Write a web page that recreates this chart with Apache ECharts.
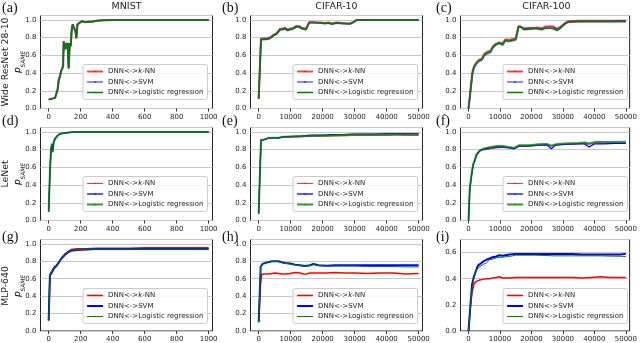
<!DOCTYPE html>
<html>
<head>
<meta charset="utf-8">
<script src="https://cdn.jsdelivr.net/npm/echarts@6/dist/echarts.min.js"></script>
<style>
html, body { margin: 0; padding: 0; background: #fff; }
#chart { width: 640px; height: 343px; }
</style>
</head>
<body>
<div id="chart"></div>
<script>
// labels
const colTitles = ['MNIST', 'CIFAR-10', 'CIFAR-100']
const rowNames = ['Wide ResNet 28-10', 'LeNet', 'MLP-640']
const panelLetters = ['(a)', '(b)', '(c)', '(d)', '(e)', '(f)', '(g)', '(h)', '(i)']
const legendLabels = ['DNN<->{k|k}-NN', 'DNN<->SVM', 'DNN<->Logistic regression']

// tick labels
const mnistTicks = [0, 200, 400, 600, 800, 1000]
const cifarTicks = [0, 10000, 20000, 30000, 40000, 50000]
const yTicks = [0, 0.2, 0.4, 0.6, 0.8, 1.0]
const yTicksLow = [0, 0.2, 0.4, 0.6]

// (a) Wide ResNet / MNIST
const aX = [0, 8, 40, 50, 56, 63, 71, 77, 84, 90, 94, 98, 104, 111, 115, 119, 125, 132, 138, 144, 150, 159, 167, 173, 180, 190, 207, 228, 248, 270, 300, 342, 405, 500, 600, 700, 800, 900, 1000]
const aKnn = [0.10, 0.12, 0.12, 0.11, 0.22, 0.33, 0.37, 0.42, 0.44, 0.48, 0.76, 0.67, 0.69, 0.74, 0.68, 0.74, 0.46, 0.74, 0.71, 0.89, 0.95, 0.93, 0.88, 0.80, 0.95, 0.96, 0.985, 0.975, 0.98, 0.98, 0.99, 0.995, 1, 1, 1, 1, 1, 1, 1]
const aSvm = [0.10, 0.12, 0.12, 0.12, 0.21, 0.32, 0.36, 0.42, 0.43, 0.47, 0.76, 0.66, 0.68, 0.74, 0.67, 0.74, 0.45, 0.74, 0.70, 0.89, 0.95, 0.93, 0.87, 0.79, 0.95, 0.96, 0.985, 0.975, 0.98, 0.98, 0.99, 0.995, 1, 1, 1, 1, 1, 1, 1]
const aLr = [0.10, 0.12, 0.12, 0.12, 0.21, 0.32, 0.36, 0.42, 0.43, 0.47, 0.76, 0.66, 0.68, 0.74, 0.67, 0.74, 0.45, 0.74, 0.70, 0.89, 0.95, 0.93, 0.87, 0.79, 0.95, 0.96, 0.985, 0.975, 0.98, 0.98, 0.99, 0.995, 1, 1, 1, 1, 1, 1, 1]

// (b) Wide ResNet / CIFAR-10
const bX = [0, 730, 1500, 2500, 3550, 4600, 5640, 6700, 7500, 8250, 9000, 9800, 10850, 11700, 12700, 13500, 14000, 14800, 15800, 17100, 19200, 20800, 21800, 22900, 24400, 26000, 27000, 28500, 29500, 30700, 35000, 40000, 45000, 50000]
const bKnn = [0.11, 0.79, 0.79, 0.79, 0.80, 0.83, 0.85, 0.90, 0.90, 0.91, 0.89, 0.90, 0.91, 0.93, 0.93, 0.91, 0.89, 0.90, 0.975, 0.97, 0.97, 0.965, 0.97, 0.96, 0.97, 0.965, 0.96, 0.96, 0.975, 1, 1, 1, 1, 1]
const bSvm = [0.11, 0.78, 0.785, 0.785, 0.795, 0.825, 0.845, 0.895, 0.895, 0.905, 0.885, 0.895, 0.905, 0.925, 0.925, 0.905, 0.885, 0.895, 0.97, 0.97, 0.965, 0.96, 0.965, 0.955, 0.965, 0.96, 0.96, 0.955, 0.97, 1, 1, 1, 1, 1]
const bLr = [0.11, 0.77, 0.78, 0.78, 0.79, 0.82, 0.84, 0.89, 0.89, 0.90, 0.88, 0.89, 0.90, 0.92, 0.92, 0.90, 0.88, 0.89, 0.97, 0.97, 0.965, 0.96, 0.965, 0.955, 0.965, 0.96, 0.96, 0.955, 0.97, 1, 1, 1, 1, 1]

// (c) Wide ResNet / CIFAR-100
const cX = [0, 1250, 1770, 2500, 3340, 4170, 5100, 6160, 6900, 7720, 8560, 9800, 10850, 11700, 12700, 14000, 15000, 15900, 16600, 17650, 19200, 20800, 21800, 23400, 24400, 26000, 27000, 28100, 29100, 30700, 31700, 35000, 40000, 45000, 50000]
const cKnn = [0, 0.42, 0.48, 0.52, 0.55, 0.56, 0.62, 0.645, 0.645, 0.70, 0.73, 0.745, 0.735, 0.78, 0.775, 0.785, 0.79, 0.93, 0.925, 0.905, 0.91, 0.91, 0.915, 0.905, 0.925, 0.93, 0.925, 0.90, 0.92, 0.965, 0.985, 0.99, 0.99, 0.99, 0.99]
const cSvm = [0, 0.39, 0.46, 0.50, 0.535, 0.545, 0.60, 0.62, 0.63, 0.685, 0.715, 0.735, 0.715, 0.765, 0.755, 0.765, 0.775, 0.925, 0.92, 0.895, 0.90, 0.905, 0.905, 0.895, 0.91, 0.915, 0.91, 0.89, 0.91, 0.96, 0.98, 0.985, 0.985, 0.985, 0.99]
const cLr = [0, 0.40, 0.47, 0.51, 0.54, 0.55, 0.61, 0.63, 0.64, 0.69, 0.72, 0.74, 0.72, 0.77, 0.76, 0.77, 0.78, 0.92, 0.92, 0.89, 0.895, 0.90, 0.90, 0.89, 0.905, 0.905, 0.90, 0.88, 0.905, 0.955, 0.975, 0.98, 0.98, 0.98, 0.98]

// (d) LeNet / MNIST
const dX = [0, 8, 15, 21, 25, 31, 40, 50, 60, 81, 113, 154, 200, 300, 400, 500, 600, 700, 800, 900, 1000]
const dKnn = [0.10, 0.56, 0.82, 0.87, 0.80, 0.89, 0.93, 0.95, 0.97, 0.985, 0.99, 1, 1, 1, 1, 1, 1, 1, 1, 1, 1]
const dSvm = [0.10, 0.55, 0.81, 0.86, 0.78, 0.88, 0.93, 0.94, 0.97, 0.98, 0.99, 1, 1, 1, 1, 1, 1, 1, 1, 1, 1]
const dLr = [0.10, 0.55, 0.81, 0.86, 0.77, 0.88, 0.92, 0.94, 0.965, 0.985, 0.99, 1, 1, 1, 1, 1, 1, 1, 1, 1, 1]

// (e) LeNet / CIFAR-10
const eX = [0, 730, 1460, 2000, 3000, 4600, 6100, 7700, 10000, 13500, 16000, 20000, 23000, 26500, 30000, 33000, 36000, 40000, 43200, 46500, 50000]
const eKnn = [0.07, 0.90, 0.91, 0.92, 0.93, 0.935, 0.93, 0.94, 0.94, 0.945, 0.95, 0.95, 0.955, 0.955, 0.96, 0.96, 0.96, 0.96, 0.965, 0.96, 0.96]
const eSvm = [0.08, 0.91, 0.91, 0.925, 0.93, 0.935, 0.935, 0.945, 0.95, 0.955, 0.965, 0.965, 0.97, 0.97, 0.975, 0.975, 0.975, 0.98, 0.98, 0.98, 0.98]
const eLr = [0.08, 0.91, 0.91, 0.925, 0.93, 0.935, 0.93, 0.945, 0.945, 0.95, 0.955, 0.96, 0.96, 0.965, 0.97, 0.97, 0.97, 0.97, 0.975, 0.97, 0.975]

// (f) LeNet / CIFAR-100
const fX = [0, 400, 940, 1460, 2000, 2500, 3550, 4600, 5640, 7200, 9000, 10850, 12900, 14500, 16100, 19200, 22300, 24900, 26300, 27600, 30700, 34900, 36900, 38300, 40000, 43000, 46500, 50000]
const fKnn = [0, 0.35, 0.50, 0.62, 0.67, 0.73, 0.78, 0.80, 0.80, 0.81, 0.82, 0.825, 0.82, 0.81, 0.84, 0.84, 0.85, 0.855, 0.84, 0.85, 0.86, 0.865, 0.87, 0.86, 0.875, 0.87, 0.875, 0.875]
const fSvm = [0, 0.36, 0.51, 0.63, 0.68, 0.74, 0.79, 0.80, 0.81, 0.82, 0.83, 0.83, 0.82, 0.81, 0.84, 0.84, 0.85, 0.855, 0.81, 0.85, 0.86, 0.865, 0.865, 0.83, 0.865, 0.865, 0.87, 0.87]
const fLr = [0, 0.36, 0.51, 0.63, 0.68, 0.74, 0.79, 0.81, 0.82, 0.83, 0.84, 0.84, 0.83, 0.82, 0.85, 0.85, 0.86, 0.865, 0.845, 0.86, 0.87, 0.875, 0.88, 0.87, 0.885, 0.885, 0.885, 0.89]

// (g) MLP-640 / MNIST
const gX = [0, 8, 19, 33, 46, 60, 81, 102, 123, 140, 175, 238, 300, 400, 500, 600, 700, 800, 900, 1000]
const gKnn = [0.12, 0.65, 0.68, 0.73, 0.75, 0.78, 0.84, 0.885, 0.915, 0.935, 0.945, 0.945, 0.95, 0.95, 0.95, 0.955, 0.955, 0.955, 0.955, 0.955]
const gSvm = [0.12, 0.64, 0.67, 0.72, 0.74, 0.775, 0.835, 0.875, 0.905, 0.92, 0.93, 0.935, 0.94, 0.94, 0.94, 0.94, 0.94, 0.94, 0.94, 0.94]
const gLr = [0.12, 0.65, 0.67, 0.73, 0.74, 0.78, 0.84, 0.88, 0.91, 0.925, 0.935, 0.94, 0.94, 0.94, 0.94, 0.94, 0.94, 0.94, 0.94, 0.94]

// (h) MLP-640 / CIFAR-10
const hX = [0, 630, 940, 1250, 2000, 3000, 4070, 5100, 6160, 7200, 8250, 9800, 11400, 12900, 14500, 15000, 16100, 17100, 18700, 21300, 24000, 26500, 30000, 34000, 38000, 42000, 46000, 50000]
const hKnn = [0.10, 0.55, 0.65, 0.655, 0.655, 0.655, 0.66, 0.665, 0.66, 0.655, 0.655, 0.66, 0.67, 0.665, 0.65, 0.64, 0.665, 0.665, 0.665, 0.665, 0.67, 0.665, 0.665, 0.66, 0.665, 0.665, 0.655, 0.66]
const hSvm = [0.10, 0.74, 0.76, 0.77, 0.78, 0.79, 0.80, 0.80, 0.80, 0.79, 0.78, 0.775, 0.76, 0.755, 0.745, 0.745, 0.755, 0.77, 0.755, 0.75, 0.755, 0.755, 0.755, 0.755, 0.755, 0.755, 0.755, 0.755]
const hLr = [0.10, 0.74, 0.76, 0.77, 0.78, 0.79, 0.80, 0.80, 0.795, 0.785, 0.775, 0.77, 0.76, 0.75, 0.745, 0.745, 0.75, 0.76, 0.75, 0.745, 0.745, 0.745, 0.745, 0.74, 0.74, 0.74, 0.735, 0.735]

// (i) MLP-640 / CIFAR-100
const iX = [0, 630, 1150, 1770, 2500, 3000, 3550, 4600, 5640, 6700, 7700, 8800, 9800, 10850, 11400, 13000, 15000, 18000, 21000, 24000, 27000, 30000, 33000, 36000, 39000, 42000, 45000, 48000, 50000]
const iKnn = [0, 0.19, 0.30, 0.36, 0.38, 0.385, 0.39, 0.395, 0.40, 0.40, 0.405, 0.41, 0.415, 0.405, 0.40, 0.405, 0.41, 0.41, 0.41, 0.41, 0.41, 0.41, 0.41, 0.405, 0.41, 0.415, 0.41, 0.41, 0.41]
const iSvm = [0, 0.21, 0.36, 0.42, 0.47, 0.50, 0.51, 0.53, 0.545, 0.555, 0.565, 0.57, 0.58, 0.575, 0.575, 0.585, 0.59, 0.59, 0.59, 0.59, 0.59, 0.59, 0.59, 0.585, 0.585, 0.585, 0.585, 0.585, 0.59]
const iLr = [0, 0.19, 0.33, 0.41, 0.47, 0.48, 0.49, 0.51, 0.52, 0.545, 0.55, 0.56, 0.562, 0.565, 0.567, 0.57, 0.58, 0.58, 0.58, 0.578, 0.575, 0.575, 0.575, 0.575, 0.575, 0.575, 0.573, 0.572, 0.57]

const panels = [
  { x: aX, ys: [aKnn, aSvm, aLr] },
  { x: bX, ys: [bKnn, bSvm, bLr] },
  { x: cX, ys: [cKnn, cSvm, cLr] },
  { x: dX, ys: [dKnn, dSvm, dLr] },
  { x: eX, ys: [eKnn, eSvm, eLr] },
  { x: fX, ys: [fKnn, fSvm, fLr] },
  { x: gX, ys: [gKnn, gSvm, gLr] },
  { x: hX, ys: [hKnn, hSvm, hLr] },
  { x: iX, ys: [iKnn, iSvm, iLr] }
]

// layout
const colLeft = [40.5, 250.5, 460.5]
const colWidth = 172
const rowTop = [15.5, 127.5, 239.5]
const rowHeight = 93
const font = 'DejaVu Sans'
const colors = ['#ff0000', '#0000ff', '#008000']
// line width / opacity per row: [knn, svm, lr]
const rowStyles = [
  [{ w: 2, o: 0.75 }, { w: 2, o: 0.45 }, { w: 1.5, o: 1 }],
  [{ w: 0.8, o: 1 }, { w: 1.3, o: 1 }, { w: 2, o: 0.8 }],
  [{ w: 1.5, o: 1 }, { w: 2, o: 1 }, { w: 1, o: 1 }]
]
const keys = ['knn', 'svm', 'lr']

const chart = echarts.init(document.getElementById('chart'))

const grids = [], xAxes = [], yAxes = [], series = [], legends = [], graphics = []

panels.forEach((p, i) => {
  const row = Math.floor(i / 3)
  const col = i % 3
  const isMnist = col === 0
  const isLow = i === 8
  grids.push({
    left: colLeft[col], top: rowTop[row], width: colWidth, height: rowHeight,
    show: true, borderColor: '#222', borderWidth: 1, backgroundColor: '#fff'
  })
  xAxes.push({
    type: 'value', gridIndex: i,
    min: isMnist ? -51 : -2550,
    max: isMnist ? 1024 : 51200,
    axisLine: { show: false },
    axisTick: { show: true, length: 3, lineStyle: { color: '#333' }, customValues: isMnist ? mnistTicks : cifarTicks },
    axisLabel: {
      customValues: isMnist ? mnistTicks : cifarTicks,
      formatter: v => String(v),
      fontSize: 7, fontFamily: font, color: '#222', margin: 5
    },
    splitLine: { show: false }
  })
  yAxes.push({
    type: 'value', gridIndex: i,
    min: 0, max: isLow ? 0.7 : 1.05, interval: 0.2,
    axisLine: { show: false },
    axisTick: { show: false },
    axisLabel: {
      customValues: isLow ? yTicksLow : yTicks,
      formatter: v => v.toFixed(1),
      fontSize: 7, fontFamily: font, color: '#222', margin: 4
    },
    splitLine: { show: true, lineStyle: { color: '#c8c8c8', width: 1 } }
  })
  const names = []
  p.ys.forEach((ys, s) => {
    const st = rowStyles[row][s]
    const name = panelLetters[i] + keys[s]
    names.push(name)
    series.push({
      name, type: 'line', xAxisIndex: i, yAxisIndex: i,
      data: p.x.map((x, j) => [x, ys[j]]),
      symbol: 'none', smooth: false,
      lineStyle: { color: colors[s], width: st.w, opacity: st.o },
      itemStyle: { color: colors[s] },
      z: 2 + s
    })
  })
  const gridRight = colLeft[col] + colWidth
  const gridBottom = rowTop[row] + rowHeight
  legends.push({
    data: names,
    orient: 'vertical',
    right: 640 - gridRight + 5,
    bottom: 343 - gridBottom + 9,
    itemWidth: 16, itemHeight: 2, itemGap: 0.5,
    padding: [2, 4, 2, 3],
    borderColor: '#cccccc', borderWidth: 1, borderRadius: 2,
    backgroundColor: 'rgba(255,255,255,0.85)',
    selectedMode: false,
    lineStyle: { width: 'inherit', opacity: 'inherit' },
    textStyle: {
      fontSize: 7, fontFamily: font, color: '#222', lineHeight: 10,
      rich: { k: { fontSize: 7, fontFamily: font, fontStyle: 'italic', color: '#222' } }
    },
    formatter: n => legendLabels[keys.indexOf(n.slice(3))]
  })
  // panel letters
  const letterX = [2, 222, 436]
  const letterY = [8, 121, 237]
  graphics.push({
    type: 'text', x: letterX[col], y: letterY[row],
    style: {
      text: panelLetters[i], fontSize: 14, fontFamily: 'Liberation Serif', fill: '#111',
      align: 'left', verticalAlign: 'middle', textAlign: 'left', textVerticalAlign: 'middle'
    }
  })
})

colTitles.forEach((t, c) => {
  graphics.push({
    type: 'text', x: colLeft[c] + colWidth / 2, y: 7,
    style: {
      text: t, fontSize: 9.5, fontFamily: font, fill: '#222',
      align: 'center', verticalAlign: 'middle', textAlign: 'center', textVerticalAlign: 'middle'
    }
  })
})

rowNames.forEach((t, r) => {
  const cy = rowTop[r] + rowHeight / 2
  graphics.push({
    type: 'text', x: 6, y: cy, rotation: Math.PI / 2,
    style: {
      text: t, fontSize: 9.3, fontFamily: font, fill: '#222',
      align: 'center', verticalAlign: 'middle', textAlign: 'center', textVerticalAlign: 'middle'
    }
  })
  graphics.push({
    type: 'text', x: 20, y: cy, rotation: Math.PI / 2,
    style: {
      text: '{p|P}{s|SAME}',
      align: 'center', verticalAlign: 'middle', textAlign: 'center', textVerticalAlign: 'middle',
      rich: {
        p: { fontSize: 9.5, fontFamily: font, fontStyle: 'italic', fill: '#222', lineHeight: 12, verticalAlign: 'middle' },
        s: { fontSize: 6, fontFamily: font, fontStyle: 'italic', fill: '#222', lineHeight: 7, verticalAlign: 'bottom' }
      }
    }
  })
})

chart.setOption({
  animation: false,
  backgroundColor: '#fff',
  grid: grids,
  xAxis: xAxes,
  yAxis: yAxes,
  legend: legends,
  series,
  graphic: graphics
})
</script>
</body>
</html>
